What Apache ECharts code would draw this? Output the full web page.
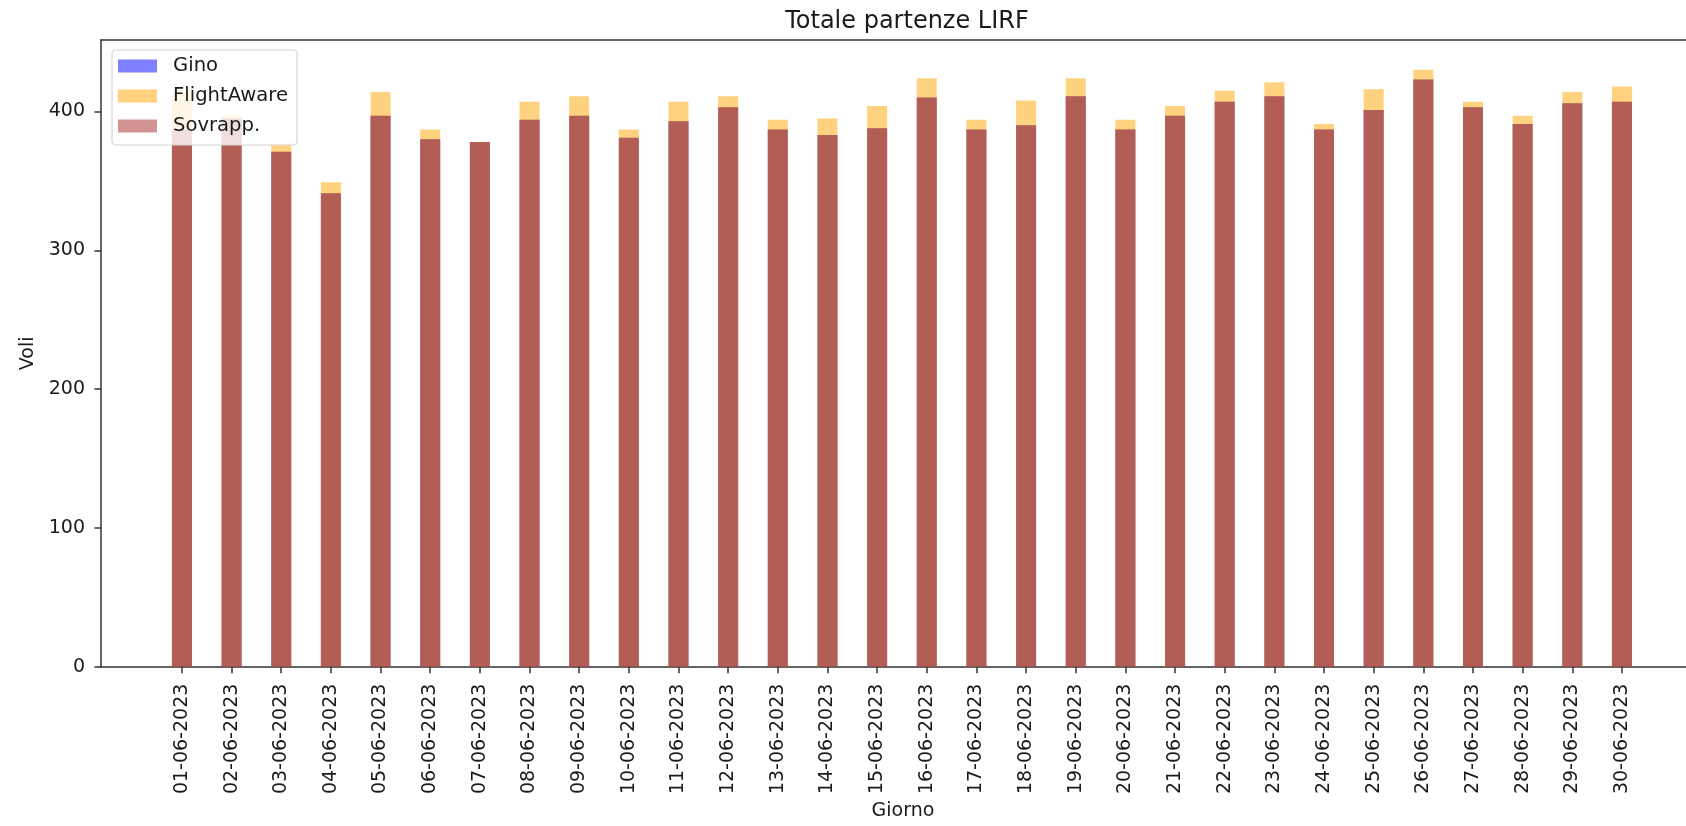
<!DOCTYPE html>
<html>
<head>
<meta charset="utf-8">
<script src="https://cdn.jsdelivr.net/npm/echarts@6/dist/echarts.min.js"></script>
<style>
html,body{margin:0;padding:0;background:#fff;}
#chart{width:1686px;height:826px;}
</style>
</head>
<body>
<div id="chart"></div>
<script>
const days = ['01-06-2023','02-06-2023','03-06-2023','04-06-2023','05-06-2023','06-06-2023','07-06-2023','08-06-2023','09-06-2023','10-06-2023',
  '11-06-2023','12-06-2023','13-06-2023','14-06-2023','15-06-2023','16-06-2023','17-06-2023','18-06-2023','19-06-2023','20-06-2023',
  '21-06-2023','22-06-2023','23-06-2023','24-06-2023','25-06-2023','26-06-2023','27-06-2023','28-06-2023','29-06-2023','30-06-2023'];
const gino = [387,395,371,341,397,380,378,394,397,381,393,403,387,383,388,410,387,390,411,387,397,407,411,387,401,423,403,391,406,407];
const flightAware = [414,397,377,349,414,387,378,407,411,387,407,411,394,395,404,424,394,408,424,394,404,415,421,391,416,430,407,397,414,418];
const sovrapp = [387,395,371,341,397,380,378,394,397,381,393,403,387,383,388,410,387,390,411,387,397,407,411,387,401,423,403,391,406,407];
const yTicks = [0,100,200,300,400];

const FONT = 'DejaVu Sans';
const TXT = '#1a1a1a';
const AX = '#333';
const xIdx = days.map((d,i)=>i);
const pairs = arr => arr.map((v,i)=>[i,v]);
const yMax = Math.max(...flightAware) * 1.05;
const xMin = -1.63, xMax = 30.29;

const chart = echarts.init(document.getElementById('chart'));
chart.setOption({
  animation: false,
  backgroundColor: '#fff',
  textStyle: {fontFamily: FONT},
  title: {
    text: 'Totale partenze LIRF',
    left: 902, top: 5, textAlign: 'center',
    textStyle: {fontFamily: FONT, fontSize: 24, fontWeight: 'normal', color: TXT}
  },
  legend: {
    orient: 'vertical', left: 112, top: 50,
    padding: [6, 9, 9, 6],
    itemWidth: 39, itemHeight: 13, itemGap: 10,
    icon: 'rect',
    backgroundColor: 'rgba(255,255,255,0.8)',
    borderColor: '#d4d4d4', borderWidth: 1.2, borderRadius: 4,
    textStyle: {fontFamily: FONT, fontSize: 19.6, color: TXT, lineHeight: 20, padding: [0,0,0,11]},
    data: ['Gino','FlightAware','Sovrapp.']
  },
  grid: {left: 101, top: 40, right: 0, bottom: 156, containLabel: false},
  xAxis: [{
    type: 'value', min: xMin, max: xMax,
    name: 'Giorno', nameLocation: 'middle', nameGap: 134,
    nameTextStyle: {fontFamily: FONT, fontSize: 19, color: TXT, padding: [0, 0, 0, 19]},
    axisLine: {show: true, onZero: false, lineStyle: {color: AX, width: 1.5}},
    axisTick: {show: true, length: 6.5, lineStyle: {color: AX, width: 1.5}, customValues: xIdx},
    axisLabel: {show: true, rotate: 90, margin: 17, fontFamily: FONT, fontSize: 19, color: TXT,
      customValues: xIdx, formatter: v => days[Math.round(v)] || ''},
    splitLine: {show: false}
  },{
    type: 'value', position: 'top', min: xMin, max: xMax,
    axisLine: {show: true, onZero: false, lineStyle: {color: AX, width: 1.5}},
    axisTick: {show: false}, axisLabel: {show: false}, splitLine: {show: false}
  }],
  yAxis: [{
    type: 'value', min: 0, max: yMax,
    name: 'Voli', nameLocation: 'middle', nameGap: 62, nameRotate: 90,
    nameTextStyle: {fontFamily: FONT, fontSize: 19, color: TXT},
    axisLine: {show: true, onZero: false, lineStyle: {color: AX, width: 1.5}},
    axisTick: {show: true, length: 6.5, lineStyle: {color: AX, width: 1.5}, customValues: yTicks},
    axisLabel: {show: true, margin: 16, fontFamily: FONT, fontSize: 19, color: TXT, customValues: yTicks},
    splitLine: {show: false}
  }],
  series: [
    {name: 'Gino', type: 'bar', data: pairs(gino), barWidth: 20, barGap: '-100%',
      itemStyle: {color: 'rgba(0,0,255,0.5)'}, emphasis: {disabled: true}},
    {name: 'FlightAware', type: 'bar', data: pairs(flightAware), barWidth: 20, barGap: '-100%',
      itemStyle: {color: 'rgba(255,165,0,0.5)'}, emphasis: {disabled: true}},
    {name: 'Sovrapp.', type: 'bar', data: pairs(sovrapp), barWidth: 20, barGap: '-100%',
      itemStyle: {color: 'rgba(165,42,42,0.5)'}, emphasis: {disabled: true}}
  ]
});
</script>
</body>
</html>
